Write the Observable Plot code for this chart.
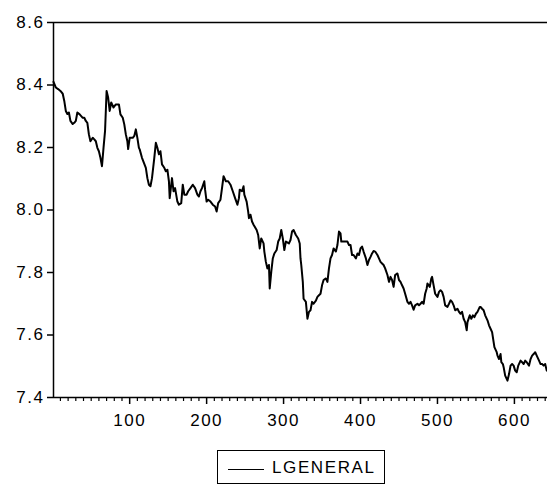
<!DOCTYPE html>
<html>
<head>
<meta charset="utf-8">
<script src="https://cdn.jsdelivr.net/npm/d3@7"></script>
<script src="https://cdn.jsdelivr.net/npm/@observablehq/plot@0.6"></script>
<style>
  html, body { margin: 0; padding: 0; background: white; }
  #wrap { position: relative; width: 547px; height: 489px; overflow: hidden; background: white; }
  #chart svg text { letter-spacing: 1.5px; }
  #legend { position: absolute; left: 217px; top: 450px; width: 166px; height: 32px; border: 1.5px solid black;
            font-family: 'Liberation Sans', Arial, sans-serif; font-size: 17px; letter-spacing: 1.6px; }
  #legend .sw { position: absolute; left: 10px; top: 18px; width: 36px; height: 0; border-top: 1.6px solid black; }
  #legend .lb { position: absolute; left: 54px; top: 7px; line-height: 20px; }
</style>
</head>
<body>
<div id="wrap">
  <div id="chart"></div>
  <div id="legend"><div class="sw"></div><div class="lb">LGENERAL</div></div>
</div>
<script>
const seriesName = "LGENERAL";
const obs = [1,4,7,10,13,15,17,19,21,23,26,28,30,32,35,39,41,43,45,47,49,52,54,56,58,60,62,64,66,68,69,70,72,73,74,76,79,82,86,88,91,93,95,97,98,100,104,106,108,110,112,113,116,121,123,125,127,129,132,134,136,138,140,142,145,147,149,151,152,155,157,159,162,164,167,169,171,174,176,179,182,185,188,190,192,194,197,198,200,202,205,208,211,213,215,218,220,222,225,228,231,234,237,240,242,243,246,248,249,252,254,255,257,259,261,265,267,269,271,274,275,277,279,281,282,284,286,288,291,293,295,297,299,301,303,307,309,311,313,316,319,321,322,323,325,326,329,331,333,335,337,339,342,344,346,348,350,352,355,357,359,361,363,365,368,370,372,374,375,378,383,385,387,389,391,394,396,398,400,402,404,407,409,411,413,415,417,419,422,424,426,428,430,432,435,437,439,441,443,445,448,450,452,454,456,458,461,463,465,467,469,471,474,476,478,480,482,484,486,487,490,492,493,495,497,500,502,504,506,508,510,513,515,517,519,521,523,526,528,530,532,534,536,538,539,542,544,546,548,550,552,555,556,558,560,562,565,567,569,571,573,574,577,578,580,582,583,585,586,588,591,593,595,597,599,601,603,605,608,610,612,614,616,619,621,623,625,627,629,632,634,636,638,640,642];
const lgeneral = [8.410,8.392,8.387,8.381,8.372,8.349,8.317,8.307,8.312,8.285,8.275,8.279,8.285,8.312,8.306,8.295,8.295,8.285,8.279,8.242,8.220,8.231,8.226,8.220,8.199,8.188,8.167,8.140,8.199,8.253,8.317,8.381,8.360,8.339,8.317,8.344,8.328,8.338,8.338,8.306,8.295,8.274,8.242,8.220,8.195,8.231,8.231,8.237,8.258,8.231,8.199,8.194,8.167,8.135,8.102,8.081,8.076,8.102,8.167,8.215,8.199,8.178,8.188,8.146,8.135,8.124,8.129,8.092,8.038,8.102,8.060,8.070,8.027,8.017,8.022,8.081,8.049,8.049,8.060,8.070,8.081,8.070,8.049,8.043,8.060,8.070,8.092,8.065,8.027,8.033,8.027,8.017,8.011,7.995,8.022,8.033,8.070,8.108,8.092,8.092,8.081,8.060,8.038,8.017,8.038,8.065,8.060,8.076,8.049,8.027,7.995,7.974,7.985,7.963,7.953,7.936,7.920,7.877,7.909,7.893,7.867,7.834,7.813,7.824,7.749,7.802,7.845,7.861,7.872,7.899,7.909,7.936,7.909,7.872,7.899,7.893,7.904,7.931,7.936,7.920,7.909,7.893,7.845,7.824,7.770,7.716,7.706,7.652,7.674,7.679,7.706,7.700,7.710,7.722,7.727,7.732,7.759,7.776,7.781,7.770,7.813,7.845,7.856,7.877,7.867,7.888,7.931,7.925,7.899,7.899,7.899,7.888,7.888,7.856,7.856,7.845,7.861,7.856,7.877,7.883,7.867,7.845,7.824,7.840,7.850,7.861,7.869,7.867,7.856,7.845,7.834,7.829,7.824,7.813,7.792,7.770,7.786,7.776,7.754,7.792,7.797,7.776,7.770,7.759,7.749,7.732,7.706,7.700,7.706,7.695,7.681,7.695,7.700,7.695,7.700,7.706,7.700,7.732,7.749,7.765,7.754,7.781,7.786,7.759,7.732,7.722,7.738,7.743,7.738,7.722,7.695,7.690,7.700,7.711,7.706,7.695,7.679,7.684,7.674,7.668,7.674,7.652,7.641,7.615,7.641,7.663,7.652,7.663,7.657,7.668,7.674,7.690,7.690,7.684,7.679,7.663,7.647,7.631,7.620,7.609,7.577,7.561,7.545,7.534,7.523,7.539,7.513,7.507,7.497,7.470,7.454,7.475,7.502,7.507,7.502,7.486,7.481,7.502,7.518,7.513,7.507,7.518,7.513,7.502,7.523,7.534,7.539,7.545,7.534,7.518,7.507,7.507,7.502,7.507,7.486];
const yTicks = [7.4, 7.6, 7.8, 8.0, 8.2, 8.4, 8.6];
const xTicks = [100, 200, 300, 400, 500, 600];
const xMinorTicks = [10,20,30,40,50,60,70,80,90,110,120,130,140,150,160,170,180,190,210,220,230,240,250,260,270,280,290,310,320,330,340,350,360,370,380,390,410,420,430,440,450,460,470,480,490,510,520,530,540,550,560,570,580,590,610,620,630,640];
const xDomain = [1, 643];
const yDomain = [7.4, 8.6];

const data = obs.map((t, i) => ({t, v: lgeneral[i]}));

const chart = Plot.plot({
  width: 547,
  height: 440,
  marginLeft: 53,
  marginRight: 0,
  marginTop: 22,
  marginBottom: 43,
  x: {domain: xDomain},
  y: {domain: yDomain},
  style: {fontFamily: "'Liberation Sans', Arial, sans-serif", fontSize: "17px", color: "black", background: "white"},
  marks: [
    Plot.ruleY([yDomain[1]], {stroke: "black", strokeWidth: 1.5}),
    Plot.ruleY([yDomain[0]], {stroke: "black", strokeWidth: 1.5}),
    Plot.ruleX([xDomain[0]], {stroke: "black", strokeWidth: 1.5}),
    Plot.axisY({ticks: yTicks, tickSize: 6, tickPadding: 3, tickFormat: d3.format(".1f"), label: null, strokeWidth: 1.5}),
    Plot.axisX({ticks: xTicks, tickSize: 7, tickPadding: 9, tickFormat: d3.format("d"), label: null, strokeWidth: 1.5}),
    Plot.axisX({ticks: xMinorTicks, tickSize: 4, tickFormat: () => "", label: null, strokeWidth: 1.2}),
    Plot.line(data, {x: "t", y: "v", stroke: "black", strokeWidth: 2})
  ]
});
document.getElementById("chart").appendChild(chart);
</script>
</body>
</html>
